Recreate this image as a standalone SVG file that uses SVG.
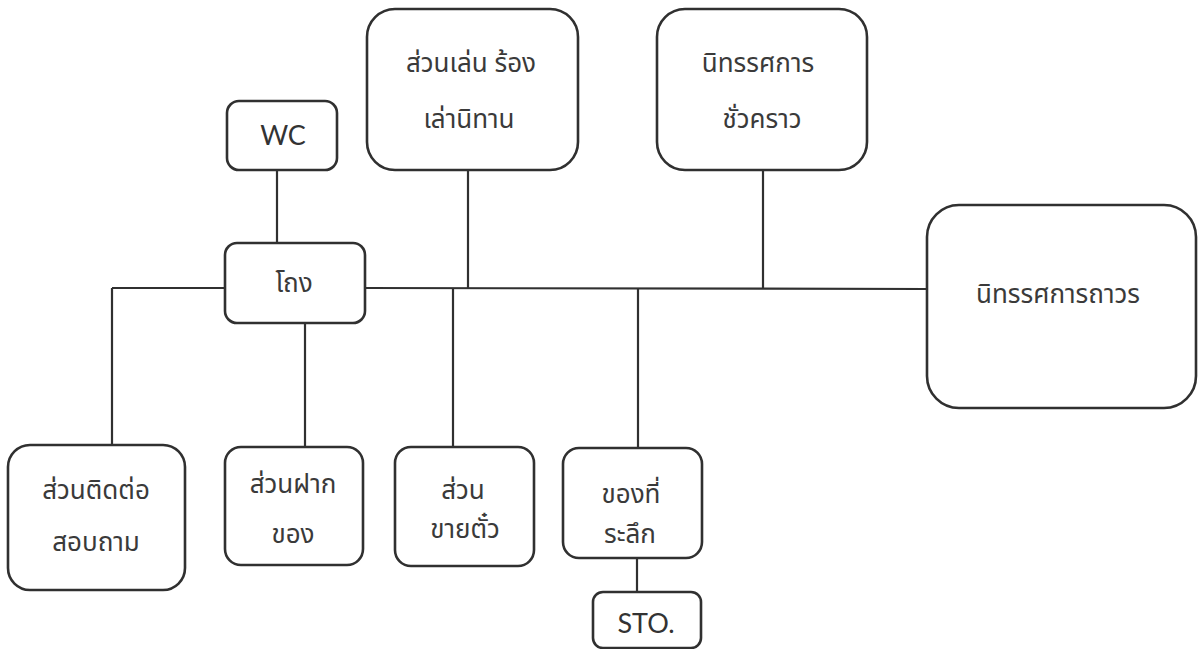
<svg xmlns="http://www.w3.org/2000/svg" width="1198" height="649" viewBox="0 0 1198 649">
<style>
.box{fill:#ffffff;stroke:#303030;stroke-width:2.6}
.ln{stroke:#303030;stroke-width:2.2;fill:none}
.th{font-family:'Noto Sans Thai','DejaVu Sans','Noto Sans',sans-serif;font-size:26px;fill:#3a3a3a;text-anchor:middle}
.en{font-family:Lato,'Open Sans',sans-serif;font-size:27px;fill:#333333;text-anchor:middle}
</style>
<rect width="1198" height="649" fill="#ffffff"/>
<g id="connectors">
<line class="ln" x1="277" y1="170" x2="277" y2="243"/>
<line class="ln" x1="112" y1="288" x2="225" y2="288"/>
<line class="ln" x1="365" y1="288" x2="927" y2="289"/>
<line class="ln" x1="112" y1="288" x2="112" y2="445"/>
<line class="ln" x1="305" y1="323" x2="305" y2="447"/>
<line class="ln" x1="468" y1="170" x2="468" y2="288"/>
<line class="ln" x1="763" y1="170" x2="763" y2="289"/>
<line class="ln" x1="453" y1="288" x2="453" y2="447"/>
<line class="ln" x1="638" y1="289" x2="638" y2="448"/>
<line class="ln" x1="637" y1="558" x2="637" y2="592"/>
</g>
<g id="wc">
<rect class="box" x="227" y="101" width="110" height="69" rx="12"/>
<text class="en" x="283" y="145">WC</text>
</g>
<g id="hall">
<rect class="box" x="225" y="243" width="140" height="80" rx="12"/>
<text class="th" x="294" y="292">โถง</text>
</g>
<g id="play">
<rect class="box" x="367" y="9" width="211" height="161" rx="28"/>
<text class="th" x="471" y="72">ส่วนเล่น ร้อง</text>
<text class="th" x="469" y="128">เล่านิทาน</text>
</g>
<g id="temp">
<rect class="box" x="657" y="9" width="210" height="161" rx="28"/>
<text class="th" x="758" y="72">นิทรรศการ</text>
<text class="th" x="762" y="128">ชั่วคราว</text>
</g>
<g id="permanent">
<rect class="box" x="927" y="205" width="269" height="203" rx="32"/>
<text class="th" x="1058" y="303">นิทรรศการถาวร</text>
</g>
<g id="info">
<rect class="box" x="8" y="445" width="177" height="145" rx="22"/>
<text class="th" x="96" y="499">ส่วนติดต่อ</text>
<text class="th" x="96" y="551">สอบถาม</text>
</g>
<g id="cloak">
<rect class="box" x="225" y="447" width="138" height="118" rx="16"/>
<text class="th" x="293" y="493">ส่วนฝาก</text>
<text class="th" x="293" y="543">ของ</text>
</g>
<g id="ticket">
<rect class="box" x="395" y="447" width="139" height="119" rx="16"/>
<text class="th" x="463" y="499">ส่วน</text>
<text class="th" x="465" y="538">ขายตั๋ว</text>
</g>
<g id="souvenir">
<rect class="box" x="563" y="448" width="139" height="110" rx="16"/>
<text class="th" x="631" y="503">ของที่</text>
<text class="th" x="630" y="543">ระลึก</text>
</g>
<g id="sto">
<rect class="box" x="593" y="592" width="108" height="56" rx="10"/>
<text class="en" x="646" y="633">STO.</text>
</g>
</svg>
